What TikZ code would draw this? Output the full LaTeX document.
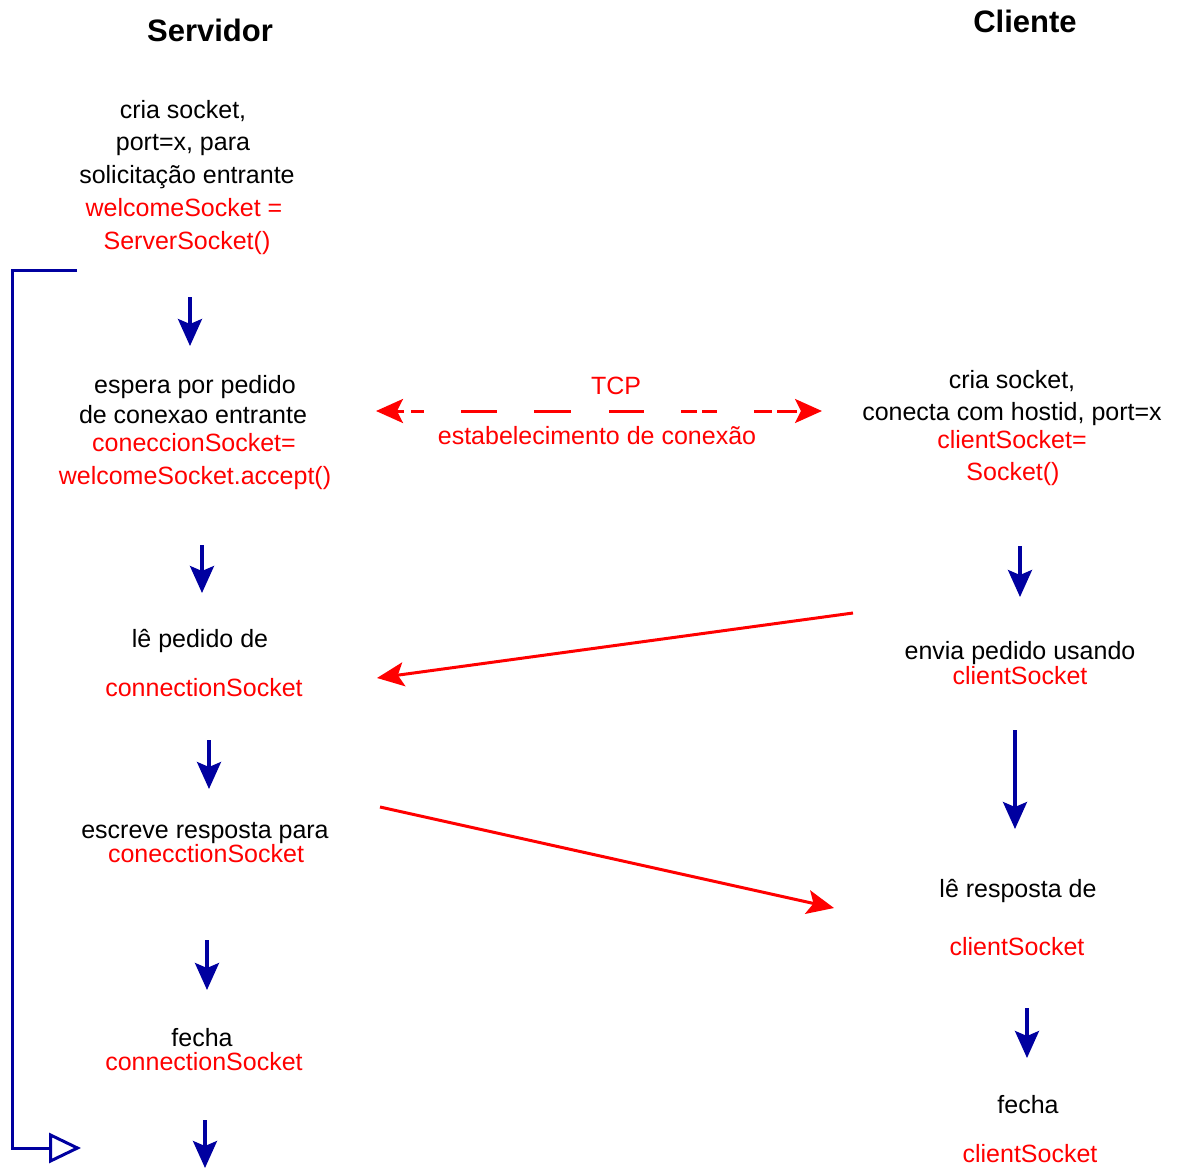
\documentclass[tikz,border=0pt]{standalone}
\usepackage{fontspec}
\setmainfont{Liberation Sans}
\usetikzlibrary{arrows.meta}
\definecolor{navy}{RGB}{0,0,160}
\definecolor{rd}{RGB}{255,0,0}
\tikzset{
 txt/.style={anchor=base, inner sep=0pt, font=\fontsize{25}{30}\selectfont},
 rtxt/.style={txt, text=rd},
 ttl/.style={anchor=base, inner sep=0pt, font=\fontsize{31}{36}\selectfont\bfseries},
 flow/.style={draw=navy, line width=3.3pt, -{Stealth[length=27pt,width=24pt,inset=5pt]}},
 msg/.style={draw=rd, line width=3pt, -{Stealth[length=27pt,width=24pt,inset=6pt]}},
 tcp/.style={draw=rd, line width=3pt, {Stealth[length=27pt,width=24pt,inset=6pt]}-{Stealth[length=27pt,width=24pt,inset=6pt]},
   dash pattern=on 8pt off 7pt on 13pt off 37pt on 36pt off 37pt on 37pt off 38pt on 35pt off 37pt on 16pt off 5pt on 15pt off 37pt on 18pt off 5pt on 20pt},
 loopline/.style={draw=navy, line width=3pt, -{Triangle[open,length=32pt,width=30pt,line width=3pt]}},
}
\begin{document}
\begin{tikzpicture}[x=1pt,y=-1pt]
\useasboundingbox (0,0) rectangle (1183,1169);
% titles
\node[ttl] (tserv) at (210,42) {Servidor};
\node[ttl] (tcli) at (1025,33) {Cliente};
% server
\node[txt] (s1a) at (183,119) {cria socket,};
\node[txt] (s1b) at (183,151) {port=x, para};
\node[txt] (s1c) at (187,184) {solicitação entrante};
\node[rtxt] (s1d) at (184,217) {welcomeSocket =};
\node[rtxt] (s1e) at (187,249) {ServerSocket()};
\node[txt] (s2a) at (195,393) {espera por pedido};
\node[txt] (s2b) at (193,423) {de conexao entrante};
\node[rtxt] (s2c) at (194,451) {coneccionSocket=};
\node[rtxt] (s2d) at (195,484) {welcomeSocket.accept()};
\node[txt] (s3a) at (200,647) {lê pedido de};
\node[rtxt] (s3b) at (204,696) {connectionSocket};
\node[txt] (s4a) at (205,838) {escreve resposta para};
\node[rtxt] (s4b) at (206,862) {conecctionSocket};
\node[txt] (s5a) at (202,1046) {fecha};
\node[rtxt] (s5b) at (204,1070) {connectionSocket};
% client
\node[txt] (c1a) at (1012,388) {cria socket,};
\node[txt] (c1b) at (1012,420) {conecta com hostid, port=x};
\node[rtxt] (c1c) at (1012,448) {clientSocket=};
\node[rtxt] (c1d) at (1013,480) {Socket()};
\node[txt] (c2a) at (1020,659) {envia pedido usando};
\node[rtxt] (c2b) at (1020,684) {clientSocket};
\node[txt] (c3a) at (1018,897) {lê resposta de};
\node[rtxt] (c3b) at (1017,955) {clientSocket};
\node[txt] (c4a) at (1028,1113) {fecha};
\node[rtxt] (c4b) at (1030,1162) {clientSocket};
% tcp labels
\node[rtxt] (tcpl) at (616,394) {TCP};
\node[rtxt] (estl) at (597,444) {estabelecimento de conexão};
% coordinates
\coordinate (f1s) at (190,297); \coordinate (f1e) at (190,346);
\coordinate (f2s) at (202,545); \coordinate (f2e) at (202,593);
\coordinate (f3s) at (209,740); \coordinate (f3e) at (209,789);
\coordinate (f4s) at (207,940); \coordinate (f4e) at (207,990);
\coordinate (f5s) at (205,1120); \coordinate (f5e) at (205,1168);
\coordinate (g1s) at (1020,546); \coordinate (g1e) at (1020,597);
\coordinate (g2s) at (1015,730); \coordinate (g2e) at (1015,829);
\coordinate (g3s) at (1027,1008); \coordinate (g3e) at (1027,1058);
\coordinate (m1s) at (853,613); \coordinate (m1e) at (377,678);
\coordinate (m2s) at (380,807); \coordinate (m2e) at (834,908);
\coordinate (ts) at (376,411); \coordinate (te) at (822,411);
\coordinate (la) at (77,270); \coordinate (lb) at (12,270);
\coordinate (lc) at (12,1148); \coordinate (ld) at (81,1148);
% connectors
\draw[flow] (f1s) -- (f1e);
\draw[flow] (f2s) -- (f2e);
\draw[flow] (f3s) -- (f3e);
\draw[flow] (f4s) -- (f4e);
\draw[flow] (f5s) -- (f5e);
\draw[flow] (g1s) -- (g1e);
\draw[flow] (g2s) -- (g2e);
\draw[flow] (g3s) -- (g3e);
\draw[msg] (m1s) -- (m1e);
\draw[msg] (m2s) -- (m2e);
\draw[tcp] (ts) -- (te);
\draw[loopline] (la) -- (lb) -- (lc) -- (ld);
\end{tikzpicture}
\end{document}
